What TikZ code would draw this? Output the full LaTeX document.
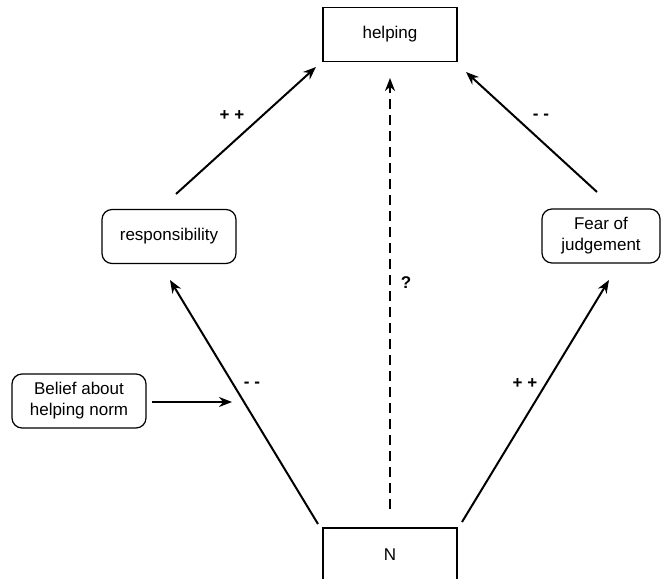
\documentclass[tikz,border=0pt]{standalone}
\usepackage{fontspec}
\setmainfont{Liberation Sans}
\usetikzlibrary{arrows.meta}
\begin{document}
\begin{tikzpicture}[x=1pt,y=-1pt,
  box/.style={draw, line width=1.2pt, minimum width=134pt, minimum height=54pt,
    align=center, inner sep=0pt, font=\fontsize{17pt}{21pt}\selectfont},
  rbox/.style={box, rounded corners=10pt},
  link/.style={line width=2pt, -{Stealth[length=13pt,width=10pt]}},
  sign/.style={font=\fontsize{17pt}{20pt}\selectfont\bfseries}]
\useasboundingbox (0,0) rectangle (666,578);
\clip (0,0) rectangle (666,578);

% boxes
\node[box]  (helping) at (390,34.5) {helping};
\node[rbox] (resp)    at (169,236.5) {responsibility};
\node[rbox, minimum width=118pt] (fear) at (601,236) {Fear of\\judgement};
\node[rbox] (belief)  at (79,401) {Belief about\\helping norm};
\node[box]  (n)       at (390,555) {N};

% connector end points
\coordinate (resp-out)  at (176,194);
\coordinate (resp-in)   at (170,280);
\coordinate (help-l)    at (316,67);
\coordinate (help-r)    at (466,72);
\coordinate (help-m)    at (390,78);
\coordinate (fear-out)  at (597,192);
\coordinate (fear-in)   at (609,280);
\coordinate (n-l)       at (318,524);
\coordinate (n-r)       at (462,522);
\coordinate (n-m)       at (390,509);
\coordinate (belief-out) at (152,402);
\coordinate (mod)       at (232,402);

% connectors
\draw[link] (resp-out) -- (help-l);
\draw[link] (fear-out) -- (help-r);
\draw[link] (n-l) -- (resp-in);
\draw[link] (n-r) -- (fear-in);
\draw[link, dash pattern=on 10pt off 6pt] (n-m) -- (help-m);
\draw[link] (belief-out) -- (mod);

% signs
\node[sign] (s1) at (232,116) {+ +};
\node[sign] (s2) at (541,117) {- -};
\node[sign] (s3) at (406,283) {?};
\node[sign] (s4) at (252,385) {- -};
\node[sign] (s5) at (525,384) {+ +};
\end{tikzpicture}
\end{document}
